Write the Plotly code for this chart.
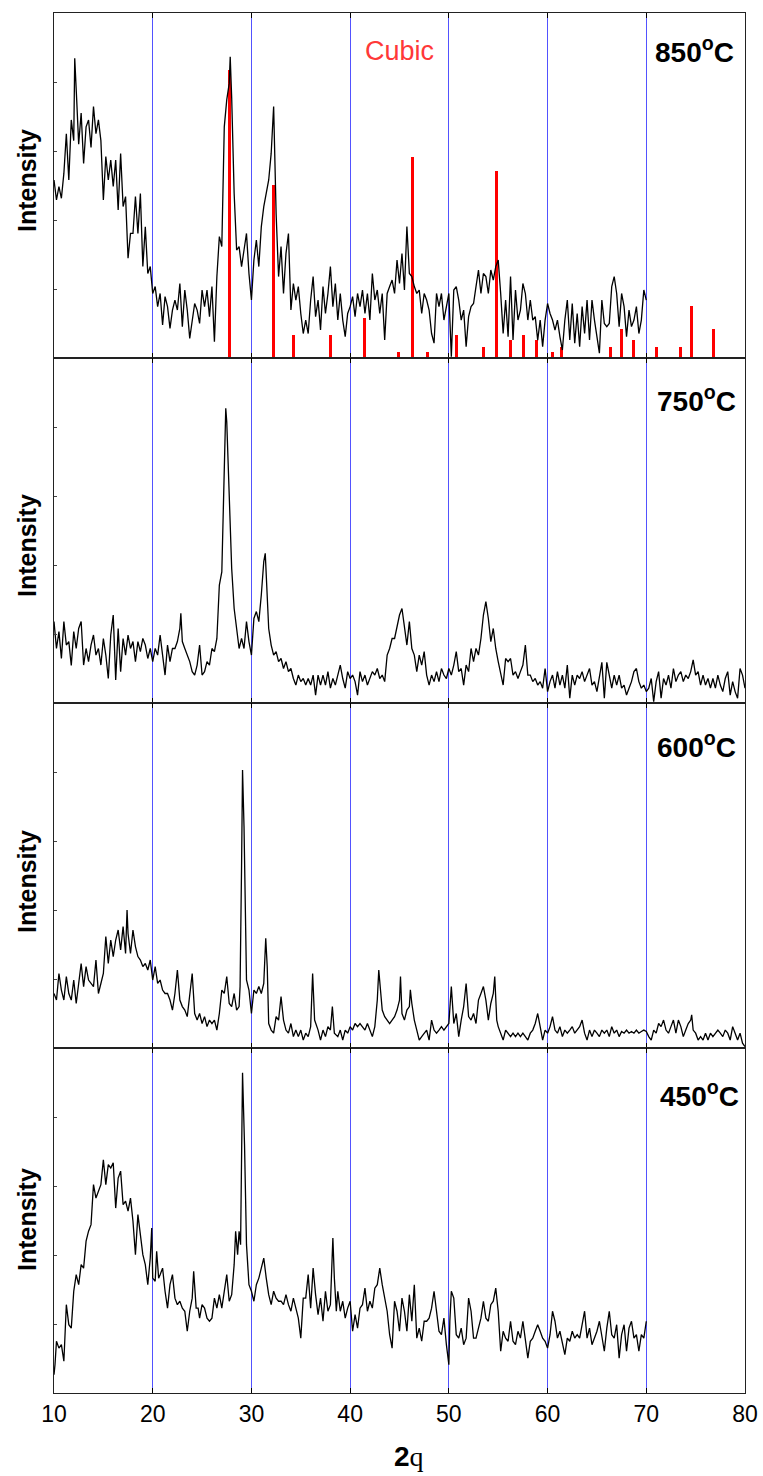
import plotly.graph_objects as go
from plotly.subplots import make_subplots

# ---------------- data (intensity in % of panel height) ----------------
x850 = [10.0,10.25,10.5,10.75,11.0,11.25,11.5,11.75,12.0,12.1,12.3,12.5,12.75,13.0,13.25,13.5,13.75,14.0,14.25,14.5,14.75,
        15.0,15.25,15.5,15.75,16.0,16.25,16.5,16.75,17.0,17.25,17.5,17.75,18.0,18.25,18.5,18.75,19.0,19.25,19.5,19.75,
        20.0,20.25,20.5,20.75,21.0,21.25,21.5,21.75,22.0,22.25,22.5,22.75,23.0,23.25,23.5,23.75,24.0,24.25,24.5,24.75,
        25.0,25.25,25.5,25.75,26.0,26.25,26.5,26.75,27.0,27.25,27.5,27.75,27.85,28.0,28.25,28.5,28.75,29.0,29.25,29.5,29.75,
        30.0,30.25,30.5,30.75,31.0,31.25,31.5,31.75,32.0,32.25,32.5,32.75,33.0,33.25,33.5,33.75,34.0,34.25,34.5,34.75,
        35.0,35.25,35.5,35.75,36.0,36.25,36.5,36.75,37.0,37.25,37.5,37.75,38.0,38.25,38.5,38.75,39.0,39.25,39.5,39.75,
        40.0,40.25,40.5,40.75,41.0,41.25,41.5,41.75,42.0,42.25,42.5,42.75,43.0,43.25,43.5,43.75,44.0,44.25,44.5,44.75,
        45.0,45.25,45.5,45.75,46.0,46.25,46.5,46.75,47.0,47.25,47.5,47.75,48.0,48.25,48.5,48.75,49.0,49.25,49.5,49.75,
        50.0,50.25,50.5,50.75,51.0,51.25,51.5,51.75,52.0,52.25,52.5,52.75,53.0,53.25,53.5,53.75,54.0,54.25,54.5,54.75,
        55.0,55.25,55.5,55.75,56.0,56.25,56.5,56.75,57.0,57.25,57.5,57.75,58.0,58.25,58.5,58.75,59.0,59.25,59.5,59.75,
        60.0,60.25,60.5,60.75,61.0,61.25,61.5,61.75,62.0,62.25,62.5,62.75,63.0,63.25,63.5,63.75,64.0,64.25,64.5,64.75,
        65.0,65.25,65.5,65.75,66.0,66.25,66.5,66.75,67.0,67.25,67.5,67.75,68.0,68.25,68.5,68.75,69.0,69.25,69.5,69.75,70.0]
i850 = [51.6,45.8,49.7,46.3,53.5,65,51.6,69,63,86.9,74.8,62,71,56.4,67,69,61,72.9,65,69,63,
        45.8,58.4,51.6,57.4,49.7,57.4,42.9,59.3,43.9,46.8,28.9,36.1,36.1,46.8,36.1,47.7,26.5,38,24.5,26.5,
        18.7,20.7,14.9,18.7,9.6,17.8,14.9,8.6,13.9,16.8,13.9,21.6,9.1,19.7,13.9,5.7,11,15.8,13.9,10,
        19.7,14.9,19.7,12,20.7,4.7,23.6,35.2,32.3,67,74.8,79.6,87.3,75.4,47.7,31.3,32.3,26.5,31.3,36.1,24.5,
        16.8,28.4,34.2,26.5,38,43.9,47.7,51.6,59.3,72.9,41.9,23.6,32.3,18.7,30.3,36.1,13.9,21.6,16.8,20.7,
        12.9,7.1,11,7.1,16.8,23.6,12,16.8,8.1,20.7,12.9,18.7,26.5,14.9,21.6,11,18.7,11,6.2,12.9,
        14.9,17.8,12,18.7,14.9,19.7,12.9,18.7,11,24.5,16.8,19.7,12.9,18.7,5.2,18.7,20.7,22.6,18.7,28.4,
        21.6,30.3,19.7,38.1,24.5,23.6,20.7,18.7,19.7,12.9,18.7,16.8,13.9,7.1,4.3,18.7,14.9,18.7,11,14.9,
        18.7,0.4,19.7,20.7,16.8,11,13.9,3.3,12,14.9,15.8,20.7,25.5,18.7,24.5,23.6,18.7,25.5,22.6,26.5,
        28.4,18.7,7.1,16.8,6.2,23.6,5.2,19.7,11,13.9,21.6,18.7,11,16.8,11,12,5.2,11,3.3,11,
        15.8,12.9,11,8.1,11,6.2,2.3,11,16.8,5.2,15.8,4.3,12.9,3.3,14.9,7.1,16.8,5.2,16.8,11,
        6.2,1.4,16.8,10,9.1,10,20.7,23.6,18.7,9.1,18.7,14.9,6.2,13.9,9.1,11,14.9,7.1,11,19.7,16.8]

x750 = [10.0,10.25,10.5,10.75,11.0,11.25,11.5,11.75,12.0,12.25,12.5,12.75,13.0,13.25,13.5,13.75,14.0,14.25,14.5,14.75,
        15.0,15.25,15.5,15.75,16.0,16.25,16.5,16.75,17.0,17.25,17.5,17.75,18.0,18.25,18.5,18.75,19.0,19.25,19.5,19.75,
        20.0,20.25,20.5,20.75,21.0,21.25,21.5,21.75,22.0,22.25,22.5,22.75,22.85,23.0,23.25,23.5,23.75,24.0,24.25,24.5,24.75,
        25.0,25.25,25.5,25.75,26.0,26.25,26.5,26.75,27.0,27.25,27.4,27.5,27.75,28.0,28.25,28.5,28.75,29.0,29.25,29.5,29.75,
        30.0,30.25,30.5,30.75,31.0,31.25,31.4,31.5,31.75,32.0,32.25,32.5,32.75,33.0,33.25,33.5,33.75,34.0,34.25,34.5,34.75,
        35.0,35.25,35.5,35.75,36.0,36.25,36.5,36.75,37.0,37.25,37.5,37.75,38.0,38.25,38.5,38.75,39.0,39.25,39.5,39.75,
        40.0,40.25,40.5,40.75,41.0,41.25,41.5,41.75,42.0,42.25,42.5,42.75,43.0,43.25,43.5,43.75,44.0,44.25,44.5,44.75,
        45.0,45.25,45.5,45.75,46.0,46.25,46.5,46.75,47.0,47.25,47.5,47.75,48.0,48.25,48.5,48.75,49.0,49.25,49.5,49.75,
        50.0,50.25,50.5,50.75,51.0,51.25,51.5,51.75,52.0,52.25,52.5,52.75,53.0,53.25,53.5,53.75,54.0,54.25,54.5,54.75,
        55.0,55.25,55.5,55.75,56.0,56.25,56.5,56.75,57.0,57.25,57.5,57.75,58.0,58.25,58.5,58.75,59.0,59.25,59.5,59.75,
        60.0,60.25,60.5,60.75,61.0,61.25,61.5,61.75,62.0,62.25,62.5,62.75,63.0,63.25,63.5,63.75,64.0,64.25,64.5,64.75,
        65.0,65.25,65.5,65.75,66.0,66.25,66.5,66.75,67.0,67.25,67.5,67.75,68.0,68.25,68.5,68.75,69.0,69.25,69.5,69.75,
        70.0,70.25,70.5,70.75,71.0,71.25,71.5,71.75,72.0,72.25,72.5,72.75,73.0,73.25,73.5,73.75,74.0,74.25,74.5,74.75,
        75.0,75.25,75.5,75.75,76.0,76.25,76.5,76.75,77.0,77.25,77.5,77.75,78.0,78.25,78.5,78.75,79.0,79.25,79.5,79.75,80.0]
i750 = [23.6,15.8,20.7,12.9,23.6,16.8,17.8,10.9,20.7,15.8,21.6,23.6,11,15.8,12,16.8,19.7,13.9,15.8,11,
        18.7,13.9,7.1,19.7,25.5,6.7,21.6,9.1,18.7,13.9,19.7,15.8,17.8,12,17.8,14.9,18.7,16.8,12.9,15.8,
        12,15.8,13.9,19.7,13.9,8.1,16.8,12,15.8,15.8,17.8,21.6,26,17.8,15.8,13.9,12,9.1,8.1,11,16.8,
        8.1,9.1,12,11,15.8,14.9,18.7,34.2,38,73.8,85.4,81.5,57.4,39,27.4,21.6,15.8,18.7,15.8,23.6,17.8,
        13.9,24.5,26.5,23.6,31.3,41,43.4,38,21.6,16.8,13.9,14.9,12,12.9,10,12,9.1,10,7.1,5.2,8.1,
        6.2,7.1,5.2,7.1,5.2,8.1,2.3,8.1,5.2,8.1,5.2,9.1,4.3,7.1,5.2,8.1,11,7.1,4.3,9.1,
        7.1,8.1,6.2,2.3,9.1,6.2,8.1,5.2,7.1,9.1,8.1,10,7.1,8.1,6.2,13.9,15.8,18.7,18.7,22.0,
        25.5,27.4,21.6,16.8,23.6,15.8,13.9,9.1,13.9,11,14.9,8.1,5.2,8.1,6.2,9.1,6.2,10,8.1,7.1,
        10,8.1,11,14.9,9.1,10,5.2,11,9.1,15.8,12,15.8,13.9,18.7,25.5,29.4,24.5,17.8,21.6,15.8,
        12,8.1,5.2,12.9,12,12.9,8.1,9.1,7.1,9.1,11,16.8,8.1,8.1,6.2,7.1,5.2,6.2,4.3,10,
        3.3,6.2,8.1,4.3,9.1,5.2,8.1,4.3,11,1.4,8.1,5.2,8.1,7.1,9.1,6.2,8.1,10,5.2,6.2,
        3.3,8.1,11.8,1.4,11.8,8.1,4.3,8.1,5.2,8.1,4.3,5.2,2.3,4.3,6.2,9.1,10,6.2,4.3,5.2,
        3.3,4.3,7.1,0.4,6.2,9.1,1.4,7.1,5.2,8.1,4.3,10,6.2,8.1,9.1,6.2,8.1,7.1,9.1,12.5,
        8.1,9.1,5.2,8.1,5.2,7.1,4.3,7.1,4.3,8.1,5.2,3.3,7.1,9.1,2.3,6.2,3.3,1.4,10,8.1,4.3]

x600 = [10.0,10.25,10.5,10.75,11.0,11.25,11.5,11.75,12.0,12.25,12.5,12.75,13.0,13.25,13.5,13.75,14.0,14.25,14.5,14.75,
        15.0,15.25,15.5,15.75,16.0,16.25,16.5,16.75,17.0,17.25,17.4,17.5,17.75,18.0,18.25,18.5,18.75,19.0,19.25,19.5,19.75,
        20.0,20.25,20.5,20.75,21.0,21.25,21.5,21.75,22.0,22.25,22.5,22.75,23.0,23.25,23.5,23.75,24.0,24.25,24.5,24.75,
        25.0,25.25,25.5,25.75,26.0,26.25,26.5,26.75,27.0,27.25,27.5,27.75,28.0,28.25,28.5,28.75,28.85,29.0,29.1,29.25,29.5,29.75,
        30.0,30.25,30.5,30.75,31.0,31.25,31.45,31.6,31.75,32.0,32.25,32.5,32.75,33.0,33.25,33.5,33.75,34.0,34.25,34.5,34.75,
        35.0,35.25,35.5,35.75,36.0,36.2,36.4,36.75,37.0,37.25,37.5,37.75,38.0,38.2,38.4,38.75,39.0,39.25,39.5,39.75,
        40.0,40.25,40.5,40.75,41.0,41.25,41.5,41.75,42.0,42.25,42.5,42.75,42.9,43.1,43.25,43.5,43.75,44.0,44.25,44.5,44.75,
        45.0,45.1,45.25,45.5,45.75,46.0,46.1,46.25,46.5,46.75,47.0,47.25,47.5,47.75,48.0,48.25,48.5,48.75,49.0,49.25,49.5,49.75,
        50.0,50.25,50.5,50.75,51.0,51.25,51.5,51.75,52.0,52.25,52.5,52.75,53.0,53.25,53.5,53.75,54.0,54.25,54.5,54.65,54.85,
        55.0,55.25,55.5,55.75,56.0,56.25,56.5,56.75,57.0,57.25,57.5,57.75,58.0,58.25,58.5,58.75,59.0,59.25,59.5,59.75,
        60.0,60.25,60.5,60.75,61.0,61.25,61.5,61.75,62.0,62.25,62.5,62.75,63.0,63.25,63.5,63.75,64.0,64.25,64.5,64.75,
        65.0,65.25,65.5,65.75,66.0,66.25,66.5,66.75,67.0,67.25,67.5,67.75,68.0,68.25,68.5,68.75,69.0,69.25,69.5,69.75,
        70.0,70.25,70.5,70.75,71.0,71.25,71.5,71.75,72.0,72.25,72.5,72.75,73.0,73.25,73.5,73.75,74.0,74.25,74.5,74.6,74.75,
        75.0,75.25,75.5,75.75,76.0,76.25,76.5,76.75,77.0,77.25,77.5,77.75,78.0,78.25,78.5,78.75,79.0,79.25,79.5,79.75,80.0]
i600 = [15.8,13.9,21.6,16.8,13.9,20.7,15.8,13.9,19.7,12.9,18.7,24.5,17.8,23.6,19.7,18.7,17.8,25.5,15.8,18.7,
        21.6,32.3,24.5,31.3,26.5,31.3,34.2,28.4,35.2,27.4,40,33.2,27.4,34.2,29.4,26.5,25.5,23.6,24.5,22.6,25.5,
        19.7,23.6,18.7,19.7,16.8,15.8,15.8,13.9,11,15.8,22.6,13.9,12,11,9.1,15.8,21.6,10,8.1,10,
        7.1,9.1,6.2,8.1,7.1,8.1,5.2,10,16.8,15.8,20.7,12.9,12,15.8,11,12,17.8,52.6,80.6,64.2,19.7,16.8,
        10,16.8,15.8,17.8,15.8,18.7,31.8,23.6,7.1,5.2,4.3,9.1,8.1,14.9,8.1,5.2,4.3,7.1,3.3,5.2,3.3,
        5.2,2.3,4.3,3.3,6.2,21.6,8.1,5.2,2.3,5.2,3.3,6.2,5.2,12,4.3,3.3,5.2,2.3,5.2,4.3,
        6.2,5.2,7.1,6.2,7.1,6.2,5.2,7.1,5.2,3.3,6.2,13.9,22.6,15.8,11,9.1,8.1,7.1,8.1,9.1,11,
        13.9,20.7,10,8.1,11,12,16.9,12.9,8.1,5.2,2.3,3.3,4.3,5.2,2.3,8.1,5.2,4.3,5.2,6.2,5.2,6.2,
        7.1,17.8,7.1,10,3.3,8.1,12,18.7,9.1,8.1,10,7.1,13.9,15.8,17.8,13.9,8.1,12.9,15.8,20.7,8.1,
        6.2,4.3,2.3,5.2,4.3,3.3,4.3,3.3,4.3,3.3,4.3,3.3,2.3,4.3,5.2,7.1,10,6.2,2.3,5.2,
        4.3,6.2,9.1,5.2,4.3,6.2,3.3,5.2,4.3,5.2,6.2,4.3,5.2,6.2,8.1,4.3,2.3,5.2,3.3,5.2,
        4.3,3.3,5.2,4.3,5.2,3.3,6.2,4.3,5.2,3.3,4.8,4.3,5.2,4.3,4.8,4.3,5.2,4.3,4.8,5.2,
        4.8,3.3,2.3,5.2,4.3,7.1,6.2,8.1,5.2,4.3,6.2,8.1,4.3,8.1,6.2,3.3,5.2,7.1,8.1,9.6,5.2,
        4.3,2.3,3.3,2.3,4.3,2.3,4.3,3.3,4.3,5.2,4.3,3.3,5.2,4.3,2.3,6.2,4.3,2.3,4.3,1.4,0.4]

x450 = [10.0,10.1,10.25,10.5,10.75,11.0,11.25,11.5,11.75,12.0,12.25,12.5,12.75,13.0,13.25,13.5,13.75,14.0,14.25,14.5,14.75,
        15.0,15.25,15.5,15.75,16.0,16.25,16.5,16.75,17.0,17.25,17.5,17.75,18.0,18.25,18.5,18.75,19.0,19.25,19.5,19.75,19.9,
        20.0,20.25,20.4,20.6,20.75,21.0,21.25,21.5,21.75,22.0,22.25,22.5,22.75,23.0,23.25,23.5,23.75,24.0,24.15,24.4,24.6,24.75,
        25.0,25.25,25.5,25.75,26.0,26.25,26.5,26.75,27.0,27.25,27.5,27.75,28.0,28.25,28.4,28.6,28.75,28.9,29.0,29.1,29.3,29.5,29.75,
        30.0,30.25,30.5,30.75,31.0,31.25,31.5,31.75,32.0,32.25,32.5,32.75,33.0,33.25,33.5,33.75,34.0,34.25,34.5,34.75,
        35.0,35.25,35.5,35.75,36.0,36.25,36.5,36.75,37.0,37.25,37.5,37.75,38.0,38.25,38.4,38.6,38.75,39.0,39.25,39.5,39.75,
        40.0,40.25,40.5,40.75,41.0,41.25,41.5,41.75,42.0,42.25,42.5,42.75,43.0,43.25,43.5,43.75,44.0,44.25,44.5,44.75,
        45.0,45.25,45.5,45.75,46.0,46.25,46.5,46.75,47.0,47.25,47.5,47.75,48.0,48.25,48.5,48.75,49.0,49.25,49.5,49.75,
        50.0,50.1,50.25,50.5,50.75,51.0,51.25,51.5,51.75,52.0,52.25,52.5,52.75,53.0,53.25,53.5,53.75,54.0,54.25,54.5,54.75,
        55.0,55.25,55.5,55.75,56.0,56.25,56.5,56.75,57.0,57.25,57.5,57.75,58.0,58.25,58.5,58.75,59.0,59.25,59.5,59.75,
        60.0,60.25,60.5,60.75,61.0,61.25,61.5,61.75,62.0,62.25,62.5,62.75,63.0,63.25,63.5,63.75,64.0,64.25,64.5,64.75,
        65.0,65.25,65.5,65.75,66.0,66.25,66.5,66.75,67.0,67.25,67.5,67.75,68.0,68.25,68.5,68.75,69.0,69.25,69.5,69.75,70.0]
i450 = [5.3,8.2,15,13,14,9.2,25.6,19.8,18.8,29.5,34.3,31.4,37.2,36.2,44,46.9,48.8,60.4,56.5,58.5,60.4,
        67.6,60.4,66.2,65.2,66.7,53.6,62.3,64.3,54.6,55.6,52.7,56.5,49.8,40.1,51.7,45.9,40.1,37.2,31.4,39.1,47.8,
        33.3,32.4,41.1,33.3,34.3,36.2,29.5,24.6,31.4,34.3,27.5,25.6,26.6,24.6,23.7,17.9,23.7,27.5,35.3,24.6,24.6,21.7,
        25.6,24.6,21.7,20.8,21.7,27.5,24.6,28.5,24.6,29.5,34.3,26.6,28.5,37.2,46.9,40.1,46.9,43,72,92.8,72,43,31.4,
        29.5,26.6,31.4,33.3,36.2,39.1,33.3,28.5,25.6,29.5,27.5,26.6,26.6,25.6,28.5,25.6,23.7,27.5,24.6,21.7,
        15.9,27.5,27.5,34.3,24.6,36.2,28.5,22.7,27.5,20.8,29.5,23.7,25.6,44.9,33.3,23.7,29.5,23.7,26.6,21.7,24.6,
        26.6,17.9,22.7,18.8,24.6,25.6,30.4,23.7,26.6,24.6,30.4,31.4,36.2,31.4,27.5,23.7,16.9,13,26.6,23.7,
        17.9,27.5,23.7,17.9,28.5,20.8,31.4,15.9,18.8,15,20.8,20.8,21.7,24.6,29.5,23.7,17.9,16.9,21.7,14,
        8.2,20.8,29.5,27.5,16.9,15.9,18.8,14,15.9,27.5,23.7,15.9,15.9,18.8,21.7,26.6,21.7,20.8,25.6,26.6,30.4,
        23.7,12.1,17.9,15.9,15,20.8,15,14,17.9,15.9,20.8,15.9,10.1,15,15.9,17.9,19.8,17.9,15.9,15,
        13,16.9,23.7,20.8,15.9,17.9,14,11.1,15.9,15,17.9,15.9,16.9,15.9,19.8,23.7,15.9,18.8,14,15.9,
        17.9,20.8,15.9,12.1,18.8,23.7,16.9,15.9,19.8,10.1,16.9,19.8,12.1,18.8,20.8,15.9,16.9,12.1,16.9,15.9,20.8]

# reference (cubic) stick pattern shown in the 850 C panel
cubic_pos = [27.81,32.2,34.3,38.0,41.5,44.85,46.27,47.8,50.76,53.55,54.87,56.22,57.57,58.92,60.47,61.45,
             66.34,67.52,68.7,71.06,73.43,74.6,76.83]
cubic_int = [83.5,50.1,6.7,6.7,11.6,1.7,58.3,1.7,6.7,3.2,54.2,5.2,6.7,5.2,1.7,3.2,
             3.2,8.4,5.2,3.2,3.2,15.1,8.4]

panel_labels = ["850", "750", "600", "450"]
x_ticks = [10, 20, 30, 40, 50, 60, 70, 80]

# ---------------- figure ----------------
W, H = 763, 1476
ML, MR, MT, MB = 54, 18, 13, 83

fig = make_subplots(rows=4, cols=1, shared_xaxes=True, vertical_spacing=0)

fig.add_trace(go.Bar(x=cubic_pos, y=cubic_int, width=0.3, marker=dict(color="#ff0000", line=dict(width=0)),
                     showlegend=False), row=1, col=1)
series = [(x850, i850), (x750, i750), (x600, i600), (x450, i450)]
for r, (xs, ys) in enumerate(series, start=1):
    fig.add_trace(go.Scatter(x=xs, y=ys, mode="lines", line=dict(color="black", width=1.3),
                             showlegend=False), row=r, col=1)

for r in range(1, 5):
    fig.update_xaxes(range=[10, 80], tickvals=x_ticks, showgrid=True, gridcolor="#5252ff", gridwidth=1,
                     ticks="inside", ticklen=5, tickcolor="black", tickwidth=1,
                     showline=True, linecolor="#222222", linewidth=1.3, mirror="ticks", zeroline=False,
                     automargin=False,
                     tickfont=dict(family="Liberation Sans, Arial", size=23, color="black"),
                     row=r, col=1)
    fig.update_yaxes(range=[0, 100], tickvals=[20, 40, 60, 80], showticklabels=False, showgrid=False,
                     ticks="inside", ticklen=3, tickcolor="#444444",
                     showline=True, linecolor="#222222", linewidth=1.3, mirror=True, zeroline=False,
                     automargin=False, row=r, col=1)

PW = W - ML - MR
PH = H - MT - MB

def px_x(px):
    return (px - ML) / PW

def px_y(py):
    return (H - MB - py) / PH

ann = []
int_y = [181, 546, 882, 1220]
for yy in int_y:
    ann.append(dict(text="<b>Intensity</b>", x=px_x(27), y=px_y(yy), xref="paper", yref="paper",
                    textangle=-90, showarrow=False, xanchor="center", yanchor="middle",
                    font=dict(family="Liberation Sans, Arial", size=25, color="black")))

temp_pos = [(736, 50), (738, 399), (738, 745), (741, 1094)]
for lab, (tx, ty) in zip(panel_labels, temp_pos):
    ann.append(dict(text="<b>" + lab + "<sup>o</sup>C</b>", x=px_x(tx), y=px_y(ty), xref="paper", yref="paper",
                    showarrow=False, xanchor="right", yanchor="middle",
                    font=dict(family="Liberation Sans, Arial", size=28, color="black")))

ann.append(dict(text="Cubic", x=px_x(399), y=px_y(51), xref="paper", yref="paper", showarrow=False,
                xanchor="center", yanchor="middle",
                font=dict(family="Liberation Sans, Arial", size=27, color="#ff3838")))

ann.append(dict(text="<b>2</b><span style='font-family:Liberation Serif'>q</span>", x=px_x(409), y=px_y(1456),
                xref="paper", yref="paper", showarrow=False, xanchor="center", yanchor="middle",
                font=dict(family="Liberation Sans, Arial", size=28, color="black")))

fig.update_layout(width=W, height=H, margin=dict(l=ML, r=MR, t=MT, b=MB, autoexpand=False),
                  paper_bgcolor="white", plot_bgcolor="white", bargap=0, annotations=ann)

fig.write_html("out.html")
